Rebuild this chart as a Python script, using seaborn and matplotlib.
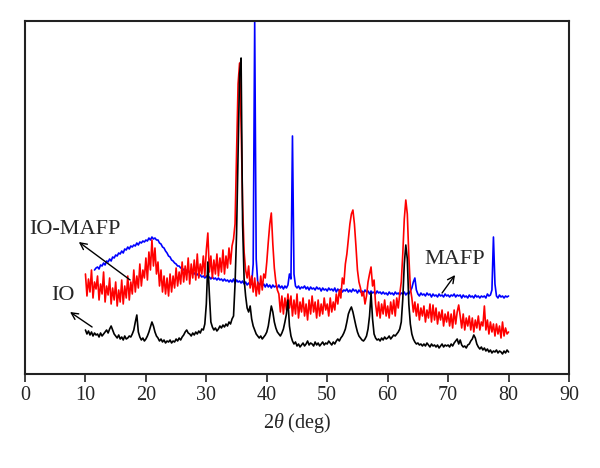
import numpy as np
import pandas as pd
import matplotlib
matplotlib.use("Agg")
import matplotlib.pyplot as plt
import seaborn as sns

# 2-theta sampling grid (deg), 0.25 deg step from 10 to 80
two_theta = np.arange(10.0, 80.001, 0.25)

io = [
    44, 40, 43, 39, 42, 38, 41, 39,
    40, 37, 41, 38, 40, 42, 44, 41,
    45, 48, 44, 40, 38, 36, 39, 35,
    37, 34, 38, 35, 36, 38, 37, 40,
    44, 52, 59, 42, 37, 34, 36, 33,
    35, 38, 42, 47, 52, 48, 42, 38,
    36, 33, 35, 32, 34, 31, 33, 32,
    34, 31, 33, 32, 35, 33, 36, 34,
    37, 39, 42, 44, 41, 40, 38, 41,
    39, 42, 40, 43, 41, 45, 44, 50,
    70, 112, 80, 52, 47, 44, 46, 43,
    45, 48, 46, 49, 47, 50, 48, 52,
    50, 55, 58, 90, 140, 220, 300, 316,
    150, 95, 78, 66, 62, 68, 55, 48,
    44, 40, 38, 36, 38, 35, 37, 39,
    42, 48, 58, 68, 62, 52, 46, 42,
    40, 38, 41, 45, 52, 60, 74, 48,
    38, 33, 30, 32, 28, 30, 27, 29,
    31, 28, 30, 33, 29, 31, 30, 28,
    32, 29, 31, 28, 30, 32, 29, 31,
    30, 33, 31, 29, 32, 30, 33, 35,
    33, 36, 38, 41, 45, 52, 60, 64,
    67, 62, 55, 48, 42, 38, 36, 34,
    33, 35, 38, 45, 58, 81, 55, 40,
    36, 34, 35, 33, 36, 34, 37, 35,
    36, 38, 35, 37, 39, 38, 40, 42,
    45, 52, 75, 110, 129, 115, 70, 50,
    40, 35, 32, 30, 31, 29, 30, 28,
    30, 28, 31, 29, 27, 30, 28, 29,
    27, 29, 26, 28, 30, 27, 29, 28,
    29, 27, 30, 28, 31, 33, 35, 30,
    34, 29, 27, 28, 26, 29, 30, 33,
    35, 39, 36, 30, 27, 25, 27, 24,
    26, 23, 25, 22, 24, 21, 23, 22,
    24, 21, 23, 22, 20, 23, 21, 24,
    22,
]

io_mafp = [
    100, 78, 95, 82, 104, 76, 92, 85,
    98, 74, 90, 80, 102, 72, 88, 79,
    96, 70, 86, 74, 92, 68, 84, 72,
    94, 70, 88, 76, 98, 74, 92, 80,
    104, 82, 98, 86, 110, 88, 104, 96,
    116, 94, 122, 104, 134, 108, 126, 100,
    112, 88, 104, 82, 98, 80, 96, 78,
    100, 82, 98, 86, 106, 88, 102, 90,
    112, 92, 108, 94, 116, 90, 110, 96,
    114, 94, 120, 96, 110, 100, 118, 98,
    124, 141, 102, 118, 96, 114, 100, 120,
    98, 116, 102, 124, 100, 118, 106, 126,
    110, 128, 135, 150, 220, 290, 311, 250,
    170, 122, 104, 96, 108, 86, 98, 82,
    96, 78, 92, 80, 98, 84, 100, 96,
    112, 132, 150, 161, 130, 106, 92, 84,
    80, 62, 78, 60, 76, 64, 80, 66,
    78, 58, 74, 60, 80, 56, 72, 62,
    76, 58, 70, 54, 74, 60, 78, 62,
    72, 56, 74, 58, 70, 60, 76, 64,
    70, 58, 76, 62, 72, 64, 80, 70,
    84, 76, 96, 90, 110, 120, 135, 150,
    160, 164, 150, 128, 104, 92, 86, 78,
    82, 70, 78, 92, 100, 107, 88, 94,
    70, 58, 72, 56, 70, 60, 74, 58,
    68, 56, 72, 60, 74, 58, 76, 66,
    80, 92, 120, 155, 174, 160, 118, 86,
    76, 62, 72, 58, 70, 54, 66, 58,
    68, 52, 64, 56, 70, 52, 69, 54,
    66, 50, 62, 54, 64, 48, 60, 52,
    62, 48, 60, 46, 64, 50, 62, 69,
    58, 46, 60, 44, 56, 48, 58, 44,
    56, 42, 54, 46, 58, 44, 52, 48,
    68, 44, 54, 40, 52, 42, 50, 38,
    50, 40, 48, 36, 52, 38, 46, 40,
    42,
]

nan = np.nan
mafp = [
    nan, nan, nan, nan, nan, nan, 104, 106,
    107, 105, 109, 108, 111, 109, 113, 112,
    115, 113, 117, 116, 119, 118, 121, 120,
    123, 121, 125, 124, 127, 125, 128, 127,
    129, 128, 131, 129, 132, 131, 133, 132,
    134, 133, 136, 134, 137, 135, 136, 134,
    134, 131, 130, 127, 126, 123, 121, 118,
    117, 114, 113, 111, 110, 108, 108, 106,
    106, 104, 105, 103, 103, 101, 102, 100,
    101, 99, 100, 98, 99, 97, 98, 96,
    98, 96, 97, 95, 97, 95, 96, 94,
    96, 94, 95, 93, 95, 93, 94, 92,
    94, 92, 95, 91, 94, 92, 93, 91,
    93, 90, 92, 89, 91, 89, 90, 110,
    352, 115, 92, 89, 91, 88, 90, 87,
    90, 87, 89, 86, 89, 87, 88, 86,
    89, 86, 88, 85, 88, 86, 89, 100,
    95, 238, 100, 88, 86, 88, 85, 87,
    86, 88, 85, 87, 84, 87, 85, 86,
    84, 87, 85, 86, 83, 86, 84, 85,
    83, 86, 84, 85, 83, 86, 82, 85,
    83, 85, 82, 84, 83, 85, 82, 84,
    82, 85, 83, 84, 81, 84, 82, 83,
    81, 84, 82, 83, 80, 83, 81, 82,
    80, 83, 81, 82, 80, 82, 80, 81,
    79, 82, 80, 81, 79, 82, 80, 81,
    79, 81, 80, 82, 79, 81, 80, 83,
    86, 92, 96, 84, 80, 78, 81, 79,
    80, 78, 81, 79, 80, 77, 80, 78,
    79, 77, 80, 78, 79, 77, 80, 78,
    79, 77, 79, 78, 80, 77, 79, 78,
    79, 76, 79, 77, 78, 76, 79, 77,
    78, 76, 79, 77, 78, 76, 78, 77,
    78, 76, 80, 78, 79, 84, 137, 90,
    78, 76, 79, 77, 78, 76, 78, 77,
    78,
]

x_ticks = [0, 10, 20, 30, 40, 50, 60, 70, 80, 90]

df = pd.DataFrame({"two_theta": two_theta, "IO": io, "IO-MAFP": io_mafp, "MAFP": mafp})

sns.set_theme(style="white")
plt.rcParams["font.family"] = ["Liberation Serif", "DejaVu Serif"]
plt.rcParams["mathtext.fontset"] = "custom"
plt.rcParams["mathtext.it"] = "Liberation Serif:italic"
plt.rcParams["mathtext.rm"] = "Liberation Serif"

fig = plt.figure(figsize=(6.0, 4.68), dpi=100)
ax = fig.add_axes([25 / 600, 94 / 468, 544 / 600, 353 / 468])

sns.lineplot(data=df, x="two_theta", y="MAFP", ax=ax, color="#0000ff", lw=1.2, estimator=None, sort=False)
sns.lineplot(data=df, x="two_theta", y="IO-MAFP", ax=ax, color="#ff0000", lw=1.2, estimator=None, sort=False)
sns.lineplot(data=df, x="two_theta", y="IO", ax=ax, color="#000000", lw=1.2, estimator=None, sort=False)

ax.set_xlim(0, 90)
ax.set_ylim(0, 353)
ax.set_xticks(x_ticks)
ax.set_xticklabels([str(t) for t in x_ticks], fontsize=14.5)
ax.set_yticks([])
ax.set_ylabel("")
ax.set_xlabel(r"2$\mathit{\theta}$ (deg)", fontsize=14.5, labelpad=4)
ax.tick_params(axis="x", direction="out", length=6, width=1.2, color="#222222", pad=3, bottom=True)
for s in ax.spines.values():
    s.set_color("#222222")
    s.set_linewidth(1.5)

arrow = dict(arrowstyle="->", color="black", lw=1.0, shrinkA=0, shrinkB=0)
ax.text(8.27, 144.5, "IO-MAFP", fontsize=16, ha="center", va="center")
ax.annotate("", xy=(8.9, 132), xytext=(17.4, 94), arrowprops=arrow)
ax.text(6.2, 79, "IO", fontsize=16, ha="center", va="center")
ax.annotate("", xy=(7.45, 62), xytext=(11.1, 47), arrowprops=arrow)
ax.text(71.1, 115, "MAFP", fontsize=16, ha="center", va="center")
ax.annotate("", xy=(71.15, 99), xytext=(69.0, 81), arrowprops=arrow)

fig.savefig("out.png", dpi=100)
